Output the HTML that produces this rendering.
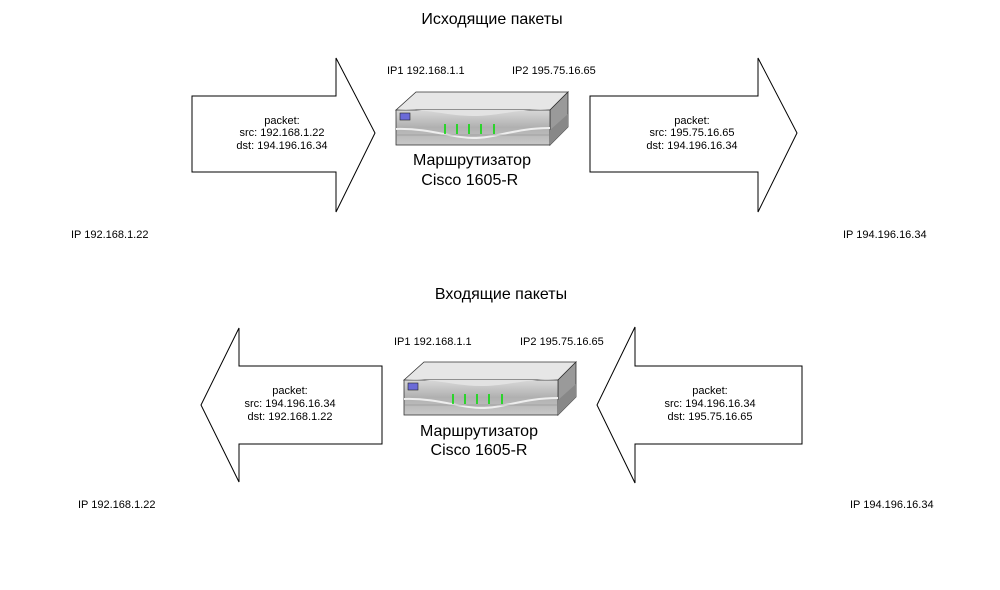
<!DOCTYPE html>
<html><head><meta charset="utf-8"><style>
html,body{margin:0;padding:0;background:#fff;}
svg{display:block}
text{font-family:"Liberation Sans",sans-serif;fill:#000}
</style></head><body>
<svg width="1000" height="590" viewBox="0 0 1000 590">
<defs>
<linearGradient id="fr" x1="0" y1="0" x2="0" y2="1">
<stop offset="0" stop-color="#d8d8d8"/><stop offset="0.5" stop-color="#b0b0b0"/><stop offset="1" stop-color="#c8c8c8"/>
</linearGradient>
<g id="router">
<polygon points="0,18 20,0 172,0 154,18" fill="#e6e6e6" stroke="#333" stroke-width="0.8"/>
<polygon points="154,18 172,0 172,35 154,53" fill="#9a9a9a" stroke="#333" stroke-width="0.8"/>
<rect x="0" y="18" width="154" height="35" fill="url(#fr)" stroke="#333" stroke-width="0.8"/>
<path d="M0,18 C30,16 50,24 77,24 C104,24 124,16 154,18" fill="#e2e2e2" stroke="none"/>
<path d="M0,37 C35,36 55,46 77,46 C100,46 120,36 154,36" fill="none" stroke="#eee" stroke-width="2"/>
<path d="M0,43 L154,43" stroke="#888" stroke-width="0.5"/>
<rect x="4" y="21" width="10" height="7" fill="#6b6bd8" stroke="#222" stroke-width="0.6"/>
<g stroke="#00dd00" stroke-width="1.5"><path d="M49,32v10M61,32v10M73,32v10M85,32v10M98,32v10"/></g>
<polygon points="154,38 172,22 172,35 154,53" fill="#888"/>
</g>
</defs>
<text x="492" y="24" font-size="16" text-anchor="middle">Исходящие пакеты</text>
<text x="501" y="299" font-size="16" text-anchor="middle">Входящие пакеты</text>

<polygon points="192,96 336,96 336,58 375,133 336,212 336,172 192,172" fill="#fff" stroke="#000" stroke-width="1"/>
<text font-size="11" text-anchor="middle"><tspan x="282" y="124">packet:</tspan><tspan x="282" y="136">src: 192.168.1.22</tspan><tspan x="282" y="149">dst: 194.196.16.34</tspan></text>

<polygon points="590,96 758,96 758,58 797,133 758,212 758,172 590,172" fill="#fff" stroke="#000" stroke-width="1"/>
<text font-size="11" text-anchor="middle"><tspan x="692" y="124">packet:</tspan><tspan x="692" y="136">src: 195.75.16.65</tspan><tspan x="692" y="149">dst: 194.196.16.34</tspan></text>

<polygon points="382,366 239,366 239,328 201,405 239,482 239,444 382,444" fill="#fff" stroke="#000" stroke-width="1"/>
<text font-size="11" text-anchor="middle"><tspan x="290" y="394">packet:</tspan><tspan x="290" y="407">src: 194.196.16.34</tspan><tspan x="290" y="420">dst: 192.168.1.22</tspan></text>

<polygon points="802,366 635,366 635,327 597,405 635,483 635,444 802,444" fill="#fff" stroke="#000" stroke-width="1"/>
<text font-size="11" text-anchor="middle"><tspan x="710" y="394">packet:</tspan><tspan x="710" y="407">src: 194.196.16.34</tspan><tspan x="710" y="420">dst: 195.75.16.65</tspan></text>

<use href="#router" x="396" y="92"/>
<use href="#router" x="404" y="362"/>

<text font-size="11"><tspan x="387" y="74">IP1 192.168.1.1</tspan><tspan x="512" y="74">IP2 195.75.16.65</tspan>
<tspan x="394" y="345">IP1 192.168.1.1</tspan><tspan x="520" y="345">IP2 195.75.16.65</tspan>
<tspan x="71" y="238">IP 192.168.1.22</tspan><tspan x="843" y="238">IP 194.196.16.34</tspan>
<tspan x="78" y="508">IP 192.168.1.22</tspan><tspan x="850" y="508">IP 194.196.16.34</tspan></text>

<text font-size="16" text-anchor="middle"><tspan x="472" y="165">Маршрутизатор</tspan><tspan x="472" y="185">Cisco 1605-R</tspan>
<tspan x="479" y="436">Маршрутизатор</tspan><tspan x="479" y="455">Cisco 1605-R</tspan></text>
</svg>
</body></html>
